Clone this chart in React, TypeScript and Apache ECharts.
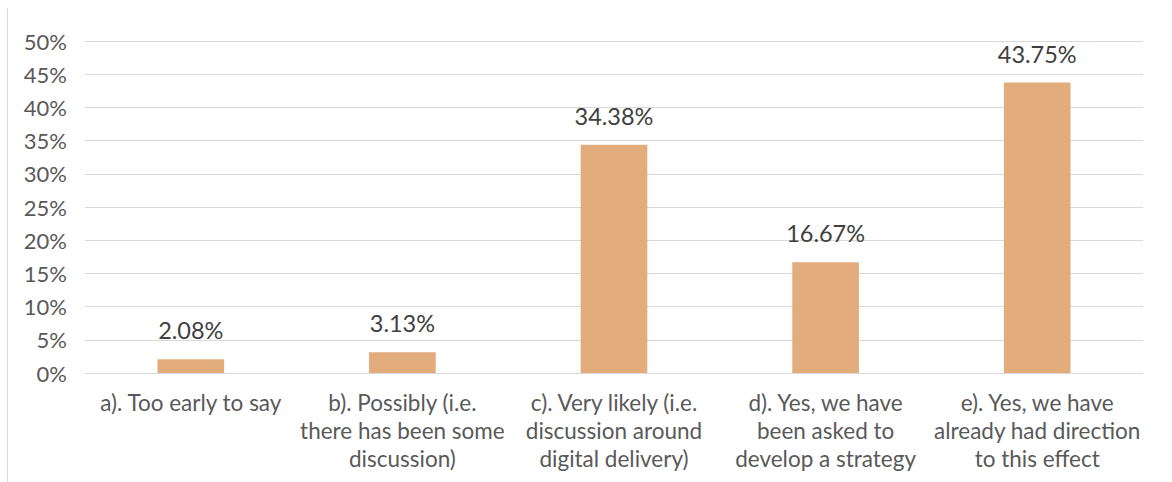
import React, { useEffect, useRef } from "react";
import * as echarts from "echarts";

const categories = [
  "a). Too early to say",
  "b). Possibly (i.e.\nthere has been some\ndiscussion)",
  "c). Very likely (i.e.\ndiscussion around\ndigital delivery)",
  "d). Yes, we have\nbeen asked to\ndevelop a strategy",
  "e). Yes, we have\nalready had direction\nto this effect",
];
const values = [2.08, 3.13, 34.38, 16.67, 43.75];
const yMin = 0;
const yMax = 50;
const yStep = 5;

export default function App() {
  const ref = useRef<HTMLDivElement>(null);
  useEffect(() => {
    document.body.style.margin = "0";
    const chart = echarts.init(ref.current!, null, { renderer: "svg" });
    const font = "Lato, 'Open Sans', sans-serif";
    chart.setOption({
      animation: false,
      backgroundColor: "#ffffff",
      grid: { left: 85, right: 29, top: 41, bottom: 109 },
      xAxis: {
        type: "category",
        data: categories,
        axisLine: { show: true, lineStyle: { color: "#d9d9d9" } },
        axisTick: { show: false },
        axisLabel: {
          interval: 0,
          color: "#595959",
          fontFamily: font,
          fontSize: 22.5,
          lineHeight: 28,
          margin: 15,
        },
      },
      yAxis: {
        type: "value",
        min: yMin,
        max: yMax,
        interval: yStep,
        axisLine: { show: false },
        axisTick: { show: false },
        splitLine: { lineStyle: { color: "#d9d9d9", width: 1 } },
        axisLabel: {
          formatter: (v: number) => `${v}%`,
          color: "#595959",
          fontFamily: font,
          fontSize: 22,
          margin: 18,
        },
      },
      graphic: [
        {
          type: "line",
          shape: { x1: 7.5, y1: 8, x2: 7.5, y2: 482 },
          style: { stroke: "#d9d9d9", lineWidth: 1 },
        },
      ],
      series: [
        {
          type: "bar",
          data: values,
          barWidth: "31.5%",
          itemStyle: { color: "#E2AC7D" },
          label: {
            show: true,
            position: "top",
            distance: 17,
            formatter: (p: any) => `${Number(p.value).toFixed(2)}%`,
            color: "#404040",
            fontFamily: font,
            fontSize: 23.5,
          },
        },
      ],
    });
    return () => chart.dispose();
  }, []);
  return <div ref={ref} style={{ width: 1172, height: 482 }} />;
}
